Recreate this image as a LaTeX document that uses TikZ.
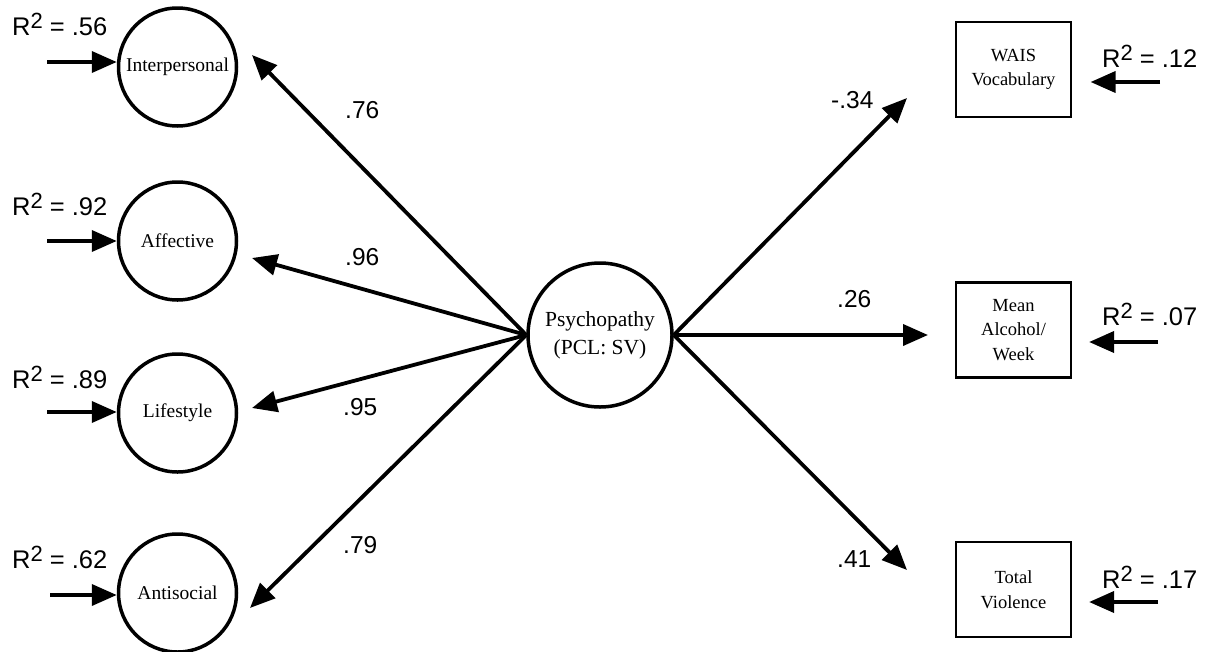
\documentclass[tikz,border=0pt]{standalone}
\usepackage{fontspec}
\setmainfont{Liberation Serif}
\newfontfamily\arialf{Liberation Sans}
\usetikzlibrary{arrows.meta}
\newcommand{\rsqlab}[1]{R\raisebox{7pt}{\fontsize{22}{22}\selectfont 2} = #1}
\begin{document}
\begin{tikzpicture}[x=1pt,y=-1pt,
 lat/.style={circle,draw,line width=3.5pt,minimum size=118pt,inner sep=0pt,font=\fontsize{19.5}{23}\selectfont},
 psyc/.style={circle,draw,line width=3.5pt,minimum size=144pt,inner sep=0pt,align=center,font=\fontsize{21.5}{28}\selectfont},
 obs/.style={rectangle,draw,line width=2.2pt,minimum width=115pt,minimum height=95pt,inner sep=0pt,align=center,font=\fontsize{18.5}{24.5}\selectfont},
 arr/.style={line width=3.8pt,-{Triangle[length=25pt,width=21pt]}},
 rsq/.style={anchor=base west,inner sep=0pt,font=\arialf\fontsize{25.5}{25.5}\selectfont},
 coef/.style={anchor=base west,inner sep=0pt,font=\arialf\fontsize{24.5}{24.5}\selectfont}]
\useasboundingbox (0,0) rectangle (1212,651);

% latent factors
\node[lat] (ip) at (177.5,67) {Interpersonal};
\node[lat] (aff) at (177.5,241) {Affective};
\node[lat] (life) at (177.5,413) {Lifestyle};
\node[lat] (anti) at (177.5,593) {Antisocial};
\node[psyc] (psy) at (600,335) {Psychopathy\\(PCL: SV)};

% observed
\node[obs] (wais) at (1013.5,69.5) {WAIS\\Vocabulary};
\node[obs] (alc) at (1013.5,330) {Mean\\Alcohol/\\Week};
\node[obs] (vio) at (1013.5,589.5) {Total\\Violence};

% loading arrow tips
\coordinate (tI) at (252,55);
\coordinate (tAf) at (252,258);
\coordinate (tL) at (252,408);
\coordinate (tAn) at (250,608);
\coordinate (tW) at (907,98);
\coordinate (tAl) at (928,335);
\coordinate (tV) at (907,570);

\draw[arr] (psy.west) -- (tI);
\draw[arr] (psy.west) -- (tAf);
\draw[arr] (psy.west) -- (tL);
\draw[arr] (psy.west) -- (tAn);
\draw[arr] (psy.east) -- (tW);
\draw[arr] (psy.east) -- (tAl);
\draw[arr] (psy.east) -- (tV);

% coefficients
\node[coef] (c1) at (345,118) {.76};
\node[coef] (c2) at (345,265) {.96};
\node[coef] (c3) at (343,415) {.95};
\node[coef] (c4) at (343,553) {.79};
\node[coef] (c5) at (831,108) {-.34};
\node[coef] (c6) at (837,307) {.26};
\node[coef] (c7) at (837,567) {.41};

% residual arrows, left
\coordinate (eI) at (47,62);
\coordinate (eAf) at (47,241);
\coordinate (eL) at (47,412);
\coordinate (eAn) at (50,595);
\draw[arr] (eI) -- (eI -| ip.west);
\draw[arr] (eAf) -- (eAf -| aff.west);
\draw[arr] (eL) -- (eL -| life.west);
\draw[arr] (eAn) -- (eAn -| anti.west);

% residual arrows, right
\coordinate (eW) at (1160,82);
\coordinate (eAl) at (1158,342);
\coordinate (eV) at (1158,602);
\draw[arr] (eW) -- ([xshift=18.5pt]eW -| wais.east);
\draw[arr] (eAl) -- ([xshift=17pt]eAl -| alc.east);
\draw[arr] (eV) -- ([xshift=17pt]eV -| vio.east);

% R^2 labels
\node[rsq] (r1) at (12,35) {\rsqlab{.56}};
\node[rsq] (r2) at (12,215) {\rsqlab{.92}};
\node[rsq] (r3) at (12,388) {\rsqlab{.89}};
\node[rsq] (r4) at (12,568) {\rsqlab{.62}};
\node[rsq] (r5) at (1102,67) {\rsqlab{.12}};
\node[rsq] (r6) at (1102,325) {\rsqlab{.07}};
\node[rsq] (r7) at (1102,588) {\rsqlab{.17}};
\end{tikzpicture}
\end{document}
